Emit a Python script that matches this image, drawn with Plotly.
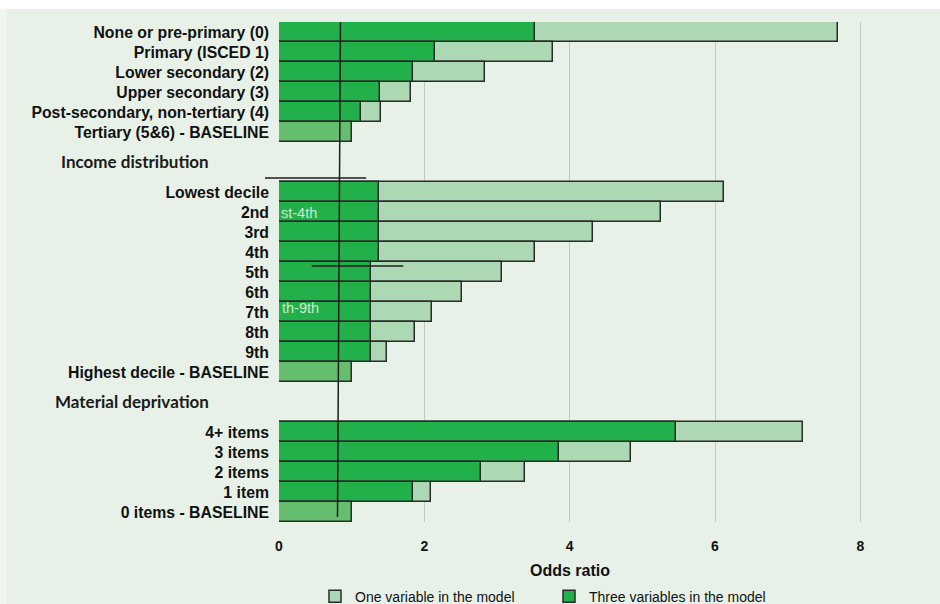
import plotly.graph_objects as go

# ---- data ----
education_labels = ["None or pre-primary (0)", "Primary (ISCED 1)", "Lower secondary (2)",
                    "Upper secondary (3)", "Post-secondary, non-tertiary (4)", "Tertiary (5&6) - BASELINE"]
education_one = [7.69, 3.77, 2.83, 1.82, 1.40, 1.0]
education_three = [3.52, 2.15, 1.84, 1.39, 1.13, 1.0]

income_labels = ["Lowest decile", "2nd", "3rd", "4th", "5th", "6th", "7th", "8th", "9th",
                 "Highest decile - BASELINE"]
income_one = [6.13, 5.25, 4.32, 3.52, 3.07, 2.52, 2.11, 1.87, 1.48, 1.0]
income_three = [1.38, 1.38, 1.38, 1.38, 1.27, 1.27, 1.27, 1.27, 1.27, 1.0]

material_labels = ["4+ items", "3 items", "2 items", "1 item", "0 items - BASELINE"]
material_one = [7.21, 4.85, 3.38, 2.09, 1.0]
material_three = [5.47, 3.86, 2.78, 1.84, 1.0]

group_headers = ["", "Income distribution", "Material deprivation"]
x_ticks = [0, 2, 4, 6, 8]
ref_line = [0.846, 0.805]  # reference line drawn in the source (top, bottom)

# ---- build rows ----
groups = [(education_labels, education_one, education_three),
          (income_labels, income_one, income_three),
          (material_labels, material_one, material_three)]
labels, y_pos, one, three, header_pos = [], [], [], [], []
pos = 0
for gi, (lab, o, t) in enumerate(groups):
    if gi > 0:
        header_pos.append(pos + 0.5)
        pos += 2
    for i in range(len(lab)):
        labels.append(lab[i])
        y_pos.append(pos)
        one.append(o[i])
        three.append(t[i])
        pos += 1
n_rows = pos

DARK = "#22b04b"
LIGHT = "#acd9b3"
BASE = "#64be6e"
BG = "#e7f1e7"
is_base = ["BASELINE" in l for l in labels]
light_colors = [BASE if b else LIGHT for b in is_base]
dark_colors = [BASE if b else DARK for b in is_base]

fig = go.Figure()
fig.add_trace(go.Bar(
    x=one, y=y_pos, orientation="h", width=1.0, name="One variable in the model",
    marker=dict(color=light_colors, line=dict(color="#2a2a2a", width=1.5)),
))
fig.add_trace(go.Bar(
    x=three, y=y_pos, orientation="h", width=1.0, name="Three variables in the model",
    marker=dict(color=dark_colors, line=dict(color="#2a2a2a", width=1.5)),
))

shapes = [
    # white strip along the top and pale strip along the left edge of the image
    dict(type="rect", xref="paper", yref="paper", x0=-0.45, x1=1.05, y0=1.026, y1=1.06,
         fillcolor="white", line=dict(width=0), layer="above"),
    dict(type="rect", xref="paper", yref="paper", x0=-0.45, x1=-0.416, y0=-0.2, y1=1.026,
         fillcolor="#f0f6f0", line=dict(width=0), layer="above"),
    # reference vertical line
    dict(type="line", xref="x", yref="y", x0=ref_line[0], x1=ref_line[1], y0=-0.7, y1=n_rows - 0.75,
         line=dict(color="#1e1e1e", width=1.5), layer="above"),
    # stray horizontal strokes from the source
    dict(type="line", xref="paper", yref="y", x0=-0.0214, x1=0.1333, y0=7.3, y1=7.3,
         line=dict(color="#1e1e1e", width=1.3), layer="above"),
    dict(type="line", xref="x", yref="y", x0=0.45, x1=1.71, y0=11.7, y1=11.7,
         line=dict(color="#1e1e1e", width=1.3), layer="above"),
]

annotations = []
for h, p in zip(group_headers[1:], header_pos):
    annotations.append(dict(text="<b>" + h + "</b>", x=0, xref="x", y=p - 0.05, yref="y",
                            xanchor="right", xshift=-68, showarrow=False,
                            font=dict(family="Lato", size=17, color="#1a1a1a")))
annotations.append(dict(text="st-4th", x=0, xref="x", y=9.05, yref="y", xanchor="left", xshift=0,
                        showarrow=False, font=dict(family="Liberation Sans", size=14.5, color="#cfe9cf")))
annotations.append(dict(text="th-9th", x=0, xref="x", y=13.8, yref="y", xanchor="left", xshift=1,
                        showarrow=False, font=dict(family="Liberation Sans", size=14.5, color="#cfe9cf")))
annotations.append(dict(text="<b>Odds ratio</b>", x=4, xref="x", y=0, yref="paper", yshift=-48,
                        xanchor="center", yanchor="middle", showarrow=False,
                        font=dict(family="Liberation Sans", size=16, color="#111")))

fig.update_layout(
    width=940, height=604,
    margin=dict(l=279, r=7, t=22, b=82),
    paper_bgcolor=BG, plot_bgcolor=BG,
    barmode="overlay", bargap=0,
    showlegend=True,
    legend=dict(orientation="h", xref="container", yref="container", x=0.3351, y=0.012,
                xanchor="left", yanchor="middle", bgcolor="rgba(0,0,0,0)",
                font=dict(family="Liberation Sans", size=14, color="#111"),
                entrywidth=189, entrywidthmode="pixels", traceorder="normal"),
    xaxis=dict(range=[0, 9], tickvals=x_ticks, ticktext=["<b>%d</b>" % v for v in x_ticks],
               showgrid=True, gridcolor="#c4c8c4", gridwidth=1.2, zeroline=False,
               showline=False, ticks="", ticklabelstandoff=14,
               tickfont=dict(family="Liberation Sans", size=14, color="#111")),
    yaxis=dict(range=[n_rows - 0.5, -0.5], tickvals=y_pos, ticktext=["<b>%s</b>" % l for l in labels],
               showgrid=False, zeroline=False, showline=False, ticks="",
               ticklabelstandoff=9,
               tickfont=dict(family="Liberation Sans", size=15.8, color="#111")),
    shapes=shapes, annotations=annotations,
)

fig.write_html("out.html", config={"displayModeBar": False},
               post_script="document.body.style.margin='0';document.body.style.overflow='hidden';"
                           "document.documentElement.style.overflow='hidden';")
